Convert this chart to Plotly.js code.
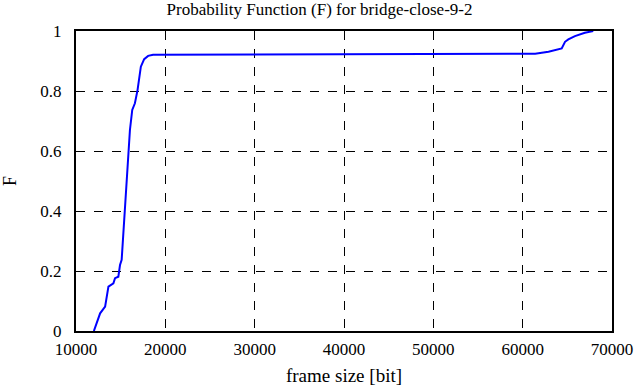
<!DOCTYPE html>
<html><head><meta charset="utf-8">
<script src="https://cdn.plot.ly/plotly-3.0.1.min.js"></script>
<style>html,body{margin:0;padding:0;background:#fff}#p{width:639px;height:387px}</style>
</head><body><div id="p"></div>
<script>
const frameSize = [12000,12700,13260,13444,13630,14185,14370,14740,14926,15111,15300,15480,15667,15852,16037,16296,16593,16889,17037,17259,17630,18074,18630,30000,45000,61400,62889,64370,64741,65111,65852,66963,67900];
const probF =     [0,0.059,0.081,0.114,0.148,0.159,0.176,0.181,0.22,0.237,0.326,0.398,0.503,0.592,0.67,0.737,0.759,0.803,0.842,0.881,0.906,0.917,0.921,0.922,0.922,0.924,0.931,0.942,0.964,0.972,0.983,0.994,1.0];
const xTicks = [10000,20000,30000,40000,50000,60000,70000];
const yTicks = [0,0.2,0.4,0.6,0.8,1];
const yTickText = ['0','0.2','0.4','0.6','0.8','1'];
const font = {family:'Liberation Serif, Times New Roman, serif', color:'#000'};
Plotly.newPlot('p',[{
  x: frameSize, y: probF, mode:'lines', type:'scatter',
  line:{color:'#0000ff', width:2}
}],{
  width:639, height:387,
  margin:{l:75.5, r:26.5, t:31, b:56},
  paper_bgcolor:'#fff', plot_bgcolor:'#fff',
  showlegend:false,
  title:{text:'Probability Function (F) for bridge-close-9-2', x:0.5, xanchor:'center', y:0.992, yanchor:'top', font:Object.assign({size:17},font)},
  xaxis:{range:[10000,70000], tickvals:xTicks, ticktext:xTicks.map(String), tickfont:Object.assign({size:17},font),
    showgrid:true, gridcolor:'#000', griddash:'dash', gridwidth:1, zeroline:false,
    showline:true, linecolor:'#000', linewidth:2, mirror:true, ticks:'', ticklabelstandoff:2,
    title:{text:'frame size [bit]', font:Object.assign({size:19},font), standoff:10}},
  yaxis:{range:[0,1], tickvals:yTicks, ticktext:yTickText, tickfont:Object.assign({size:17},font),
    showgrid:true, gridcolor:'#000', griddash:'dash', gridwidth:1, zeroline:false,
    showline:true, linecolor:'#000', linewidth:2, mirror:true, ticks:'', ticklabelstandoff:9,
    title:{text:'F', font:Object.assign({size:18},font), standoff:22}}
},{staticPlot:true, displayModeBar:false});
</script></body></html>
